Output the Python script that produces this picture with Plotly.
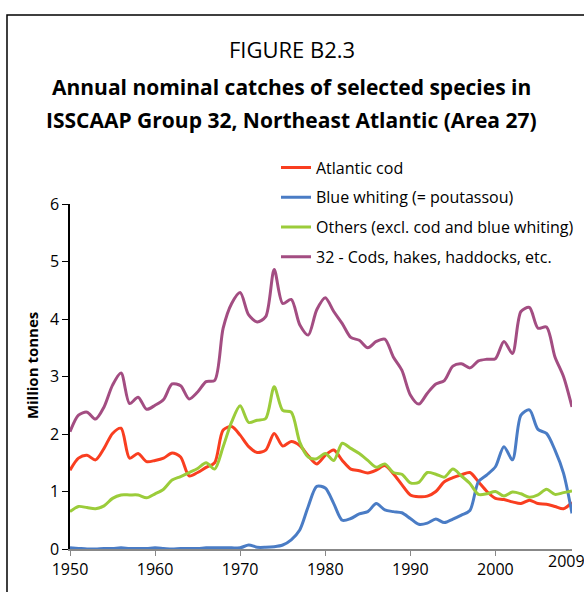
import plotly.graph_objects as go

years = list(range(1950, 2010))

atlantic_cod = [1.37, 1.58, 1.63, 1.55, 1.75, 2.01, 2.10, 1.58, 1.66, 1.52,
                1.54, 1.58, 1.67, 1.60, 1.27, 1.33, 1.42, 1.50, 2.07, 2.13,
                1.98, 1.78, 1.68, 1.72, 2.01, 1.79, 1.87, 1.80, 1.62, 1.48,
                1.63, 1.72, 1.54, 1.39, 1.36, 1.32, 1.37, 1.45, 1.31, 1.12,
                0.94, 0.91, 0.92, 1.00, 1.17, 1.24, 1.29, 1.33, 1.17, 1.00,
                0.88, 0.86, 0.82, 0.79, 0.85, 0.79, 0.78, 0.74, 0.70, 0.81]

blue_whiting = [0.02, 0.01, 0.00, 0.00, 0.01, 0.01, 0.02, 0.01, 0.01, 0.01,
                0.02, 0.01, 0.00, 0.01, 0.01, 0.01, 0.02, 0.02, 0.02, 0.02,
                0.02, 0.07, 0.03, 0.03, 0.04, 0.07, 0.16, 0.33, 0.74, 1.09,
                1.06, 0.79, 0.50, 0.53, 0.61, 0.65, 0.79, 0.68, 0.65, 0.63,
                0.53, 0.43, 0.45, 0.52, 0.46, 0.52, 0.59, 0.67, 1.17, 1.29,
                1.43, 1.78, 1.55, 2.33, 2.42, 2.08, 2.01, 1.72, 1.32, 0.62]

others = [0.65, 0.74, 0.72, 0.70, 0.75, 0.88, 0.94, 0.94, 0.94, 0.89,
          0.96, 1.04, 1.20, 1.26, 1.33, 1.40, 1.50, 1.39, 1.78, 2.21,
          2.49, 2.20, 2.24, 2.27, 2.82, 2.41, 2.38, 1.86, 1.60, 1.57,
          1.66, 1.54, 1.84, 1.75, 1.66, 1.54, 1.42, 1.48, 1.33, 1.30,
          1.15, 1.16, 1.33, 1.30, 1.25, 1.39, 1.27, 1.14, 0.95, 0.96,
          1.00, 0.92, 0.99, 0.96, 0.90, 0.94, 1.04, 0.95, 0.98, 1.01]

group32 = [2.04, 2.33, 2.38, 2.26, 2.47, 2.85, 3.06, 2.53, 2.64, 2.43,
           2.50, 2.60, 2.87, 2.84, 2.61, 2.73, 2.91, 2.93, 3.84, 4.27,
           4.46, 4.07, 3.95, 4.04, 4.86, 4.27, 4.34, 3.90, 3.72, 4.16,
           4.37, 4.13, 3.92, 3.68, 3.63, 3.50, 3.61, 3.65, 3.34, 3.11,
           2.68, 2.52, 2.71, 2.87, 2.93, 3.18, 3.22, 3.15, 3.27, 3.30,
           3.31, 3.61, 3.40, 4.13, 4.20, 3.84, 3.86, 3.34, 3.00, 2.47]

series_names = ["Atlantic cod", "Blue whiting (= poutassou)",
                "Others (excl. cod and blue whiting)", "32 - Cods, hakes, haddocks, etc."]
series_values = [atlantic_cod, blue_whiting, others, group32]
series_colors = ["#F93E20", "#4A7CC5", "#9BCC3A", "#A34D82"]

x_tick_vals = [1950, 1960, 1970, 1980, 1990, 2000]
x_tick_text = ["1950", "1960", "1970", "1980", "1990", "2000"]
y_tick_vals = [0, 1, 2, 3, 4, 5, 6]

FONT = "Open Sans"

fig = go.Figure()
for name, vals, col in zip(series_names, series_values, series_colors):
    fig.add_trace(go.Scatter(
        x=years, y=vals, mode="lines", name=name, legendgroup=name,
        line=dict(color=col, width=3, shape="spline", smoothing=0.8),
        hoverinfo="skip",
    ))

fig.update_layout(
    width=584, height=592,
    margin=dict(l=70, r=12, t=204, b=43, autoexpand=False),
    paper_bgcolor="white", plot_bgcolor="white",
    font=dict(family=FONT, size=16, color="black"),
    showlegend=True,
    legend=dict(xref="container", yref="container", x=0.4726, y=0.7458,
                xanchor="left", yanchor="top",
                font=dict(family=FONT, size=16, color="black"),
                tracegroupgap=6, bgcolor="rgba(0,0,0,0)",
                itemclick=False, itemdoubleclick=False),
    xaxis=dict(range=[1950, 2009], tickvals=x_tick_vals, ticktext=x_tick_text,
               ticks="outside", ticklen=5, tickcolor="#888888",
               showline=True, linecolor="#888888", linewidth=1.5,
               showgrid=False, zeroline=False, automargin=False,
               tickfont=dict(family=FONT, size=16, color="black")),
    yaxis=dict(range=[0, 6], tickvals=y_tick_vals, ticks="outside", ticklen=6,
               tickcolor="black", showline=True, linecolor="black", linewidth=1.5,
               showgrid=False, zeroline=False, automargin=False,
               tickfont=dict(family=FONT, size=16, color="black")),
)

# Y-axis title
fig.add_annotation(text="<b>Million tonnes</b>", xref="paper", yref="paper",
                   x=-0.0757, y=0.533, xanchor="center", yanchor="middle",
                   textangle=-90, showarrow=False,
                   font=dict(family=FONT, size=15, color="black"))

# Titles
fig.add_annotation(text="FIGURE B2.3", xref="paper", yref="paper",
                   x=0.4422, y=1.449, xanchor="center", yanchor="middle",
                   showarrow=False, font=dict(family=FONT, size=22, color="black"))
fig.add_annotation(text="<b>Annual nominal catches of selected species in</b>",
                   xref="paper", yref="paper", x=0.4422, y=1.339,
                   xanchor="center", yanchor="middle", showarrow=False,
                   font=dict(family=FONT, size=21, color="black"))
fig.add_annotation(text="<b>ISSCAAP Group 32, Northeast Atlantic (Area 27)</b>",
                   xref="paper", yref="paper", x=0.4422, y=1.2435,
                   xanchor="center", yanchor="middle", showarrow=False,
                   font=dict(family=FONT, size=21, color="black"))
# Last year label
fig.add_annotation(text="2009", xref="x", yref="paper", x=2009, y=-0.035,
                   xanchor="center", yanchor="middle", xshift=-6, showarrow=False,
                   font=dict(family=FONT, size=16, color="black"))

# Frame around the figure
fig.add_shape(type="rect", xref="paper", yref="paper",
              x0=-0.1255, y0=-0.2, x1=1.1, y1=1.548,
              line=dict(color="black", width=1.5), fillcolor="rgba(0,0,0,0)",
              layer="below")

fig.write_html("out.html", config={"displayModeBar": False},
               post_script="document.body.style.margin='0';document.body.style.overflow='hidden';")
